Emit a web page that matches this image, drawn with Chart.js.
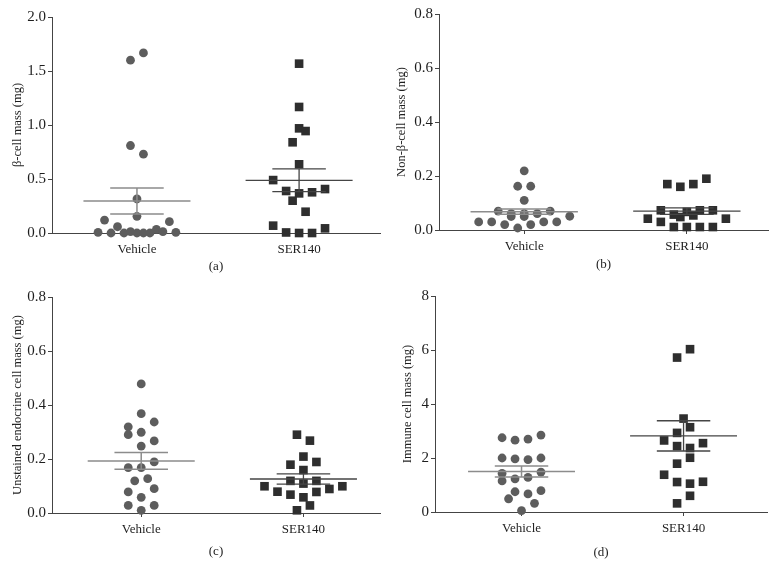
<!DOCTYPE html>
<html><head><meta charset="utf-8">
<script src="https://cdn.jsdelivr.net/npm/chart.js@4/dist/chart.umd.min.js"></script>
<style>
html,body{margin:0;padding:0;background:#fff;}
#wrap{position:relative;width:776px;height:566px;overflow:hidden;background:#fff;}
canvas{position:absolute;}
</style></head><body>
<div id="wrap">
<canvas id="ca" width="390" height="280" style="left:0;top:0"></canvas>
<canvas id="cb" width="386" height="280" style="left:390px;top:0"></canvas>
<canvas id="cc" width="390" height="286" style="left:0;top:280px"></canvas>
<canvas id="cd" width="386" height="286" style="left:390px;top:280px"></canvas>
</div>
<script>
const categories = ['Vehicle', 'SER140'];

// (a) beta-cell mass
const aVehicle       = [1.60, 1.667, 0.81, 0.73, 0.315, 0.154, 0.006, 0.12, 0.0, 0.058, 0.0, 0.012, 0.0, 0.0, 0.0, 0.034, 0.012, 0.105, 0.006];
const aVehicleJitter = [-0.04, 0.04, -0.04, 0.04, 0, 0, -0.24, -0.2, -0.16, -0.12, -0.08, -0.04, 0, 0.04, 0.08, 0.12, 0.16, 0.2, 0.24];
const aSer           = [1.568, 1.167, 0.969, 0.636, 0.367, 0.0, 0.944, 0.197, 0.84, 0.299, 0.49, 0.068, 0.389, 0.005, 0.377, 0.0, 0.407, 0.043];
const aSerJitter     = [0, 0, 0, 0, 0, 0, 0.04, 0.04, -0.04, -0.04, -0.16, -0.16, -0.08, -0.08, 0.08, 0.08, 0.16, 0.16];
const aMean = [0.296, 0.488];
const aSem  = [0.12, 0.105];
const aTicks = [0, 0.5, 1.0, 1.5, 2.0];

// (b) non-beta-cell mass
const bVehicle       = [0.219, 0.11, 0.061, 0.05, 0.162, 0.0074, 0.162, 0.02, 0.07, 0.061, 0.05, 0.061, 0.07, 0.051, 0.03, 0.03, 0.02, 0.03, 0.03];
const bVehicleJitter = [0, 0, 0, 0, -0.04, -0.04, 0.04, 0.04, -0.16, -0.08, -0.08, 0.08, 0.16, 0.28, -0.28, -0.2, -0.12, 0.12, 0.2];
const bSer           = [0.17, 0.16, 0.048, 0.17, 0.054, 0.19, 0.042, 0.073, 0.03, 0.057, 0.011, 0.067, 0.011, 0.073, 0.011, 0.073, 0.011, 0.042];
const bSerJitter     = [-0.12, -0.04, -0.04, 0.04, 0.04, 0.12, -0.24, -0.16, -0.16, -0.08, -0.08, 0, 0, 0.08, 0.08, 0.16, 0.16, 0.24];
const bMean = [0.068, 0.07];
const bSem  = [0.01, 0.012];
const bTicks = [0, 0.2, 0.4, 0.6, 0.8];

// (c) unstained endocrine cell mass
const cVehicle       = [0.478, 0.368, 0.337, 0.319, 0.29, 0.299, 0.267, 0.248, 0.189, 0.168, 0.168, 0.119, 0.127, 0.078, 0.09, 0.058, 0.028, 0.028, 0.01];
const cVehicleJitter = [0, 0, 0.08, -0.08, -0.08, 0, 0.08, 0, 0.08, -0.08, 0, -0.04, 0.04, -0.08, 0.08, 0, -0.08, 0.08, 0];
const cSer           = [0.29, 0.01, 0.268, 0.028, 0.209, 0.159, 0.109, 0.058, 0.179, 0.119, 0.068, 0.189, 0.119, 0.078, 0.099, 0.079, 0.089, 0.099];
const cSerJitter     = [-0.04, -0.04, 0.04, 0.04, 0, 0, 0, 0, -0.08, -0.08, -0.08, 0.08, 0.08, 0.08, -0.24, -0.16, 0.16, 0.24];
const cMean = [0.193, 0.126];
const cSem  = [0.031, 0.019];
const cTicks = [0, 0.2, 0.4, 0.6, 0.8];

// (d) immune cell mass
const dVehicle       = [2.75, 2.0, 1.43, 1.15, 2.66, 1.97, 1.23, 0.75, 2.70, 1.94, 1.28, 0.67, 2.85, 2.0, 1.48, 0.79, 0.49, 0.32, 0.05];
const dVehicleJitter = [-0.12, -0.12, -0.12, -0.12, -0.04, -0.04, -0.04, -0.04, 0.04, 0.04, 0.04, 0.04, 0.12, 0.12, 0.12, 0.12, -0.08, 0.08, 0];
const dSer           = [6.03, 3.14, 2.37, 2.01, 1.05, 0.60, 5.72, 2.93, 2.44, 1.79, 1.11, 0.32, 3.46, 2.65, 1.38, 2.55, 1.12];
const dSerJitter     = [0.04, 0.04, 0.04, 0.04, 0.04, 0.04, -0.04, -0.04, -0.04, -0.04, -0.04, -0.04, 0, -0.12, -0.12, 0.12, 0.12];
const dMean = [1.50, 2.82];
const dSem  = [0.20, 0.56];
const dTicks = [0, 2, 4, 6, 8];

const FONT = "'Liberation Serif', 'DejaVu Serif', serif";
const TXT = '#1e1e1e';
const AX = '#444444';

function pts(values, jitter, g) {
  return values.map((v, i) => ({x: g + jitter[i], y: v}));
}
function statLines(mean, sem, g) {
  return [
    {x: g - 0.33, y: mean}, {x: g + 0.33, y: mean}, {x: g, y: null},
    {x: g - 0.165, y: mean + sem}, {x: g + 0.165, y: mean + sem}, {x: g, y: null},
    {x: g - 0.165, y: mean - sem}, {x: g + 0.165, y: mean - sem}, {x: g, y: null},
    {x: g, y: mean - sem}, {x: g, y: mean + sem}
  ];
}

function panel(id, o) {
  const datasets = [
    {data: statLines(o.mean[0], o.sem[0], 0), showLine: true, spanGaps: false, pointRadius: 0,
     borderColor: '#8c8c8c', borderWidth: 1.5, order: 0, clip: false},
    {data: statLines(o.mean[1], o.sem[1], 1), showLine: true, spanGaps: false, pointRadius: 0,
     borderColor: '#454545', borderWidth: 1.3, order: 0, clip: false},
    {data: pts(o.veh, o.vehJ, 0), pointStyle: 'circle', pointRadius: 4.4,
     backgroundColor: '#5d5d5d', borderColor: '#5d5d5d', borderWidth: 0, order: 1, clip: false},
    {data: pts(o.ser, o.serJ, 1), pointStyle: 'rect', pointRadius: 6.1,
     backgroundColor: '#2e2e2e', borderColor: '#2e2e2e', borderWidth: 0, order: 1, clip: false}
  ];
  new Chart(document.getElementById(id), {
    type: 'scatter',
    data: {datasets},
    options: {
      responsive: false, animation: false, devicePixelRatio: 1,
      layout: {padding: {left: 0, top: o.top, right: o.right, bottom: 0}},
      plugins: {legend: {display: false}, tooltip: {enabled: false}},
      scales: {
        x: {
          type: 'linear', min: o.xMin, max: o.xMax,
          afterBuildTicks: s => { s.ticks = [{value: 0}, {value: 1}]; },
          ticks: {callback: (v, i) => categories[i], autoSkip: false, maxRotation: 0,
                  font: {family: FONT, size: 13}, color: TXT, padding: 5},
          grid: {drawOnChartArea: false, drawTicks: true, tickLength: 4, color: AX, lineWidth: 1},
          border: {display: true, color: AX, width: 1},
          title: {display: true, text: o.label, font: {family: FONT, size: 13}, color: TXT,
                  padding: {top: 0, bottom: o.labelPad}},
          afterFit: s => { s.height = o.xH; }
        },
        y: {
          min: 0, max: o.ticks[o.ticks.length - 1],
          afterBuildTicks: s => { s.ticks = o.ticks.map(v => ({value: v})); },
          ticks: {callback: v => v.toFixed(o.dec), font: {family: FONT, size: 15}, color: TXT, padding: 2},
          grid: {drawOnChartArea: false, drawTicks: true, tickLength: 4, color: AX, lineWidth: 1},
          border: {display: true, color: AX, width: 1},
          title: {display: true, text: o.yTitle, font: {family: FONT, size: 12.5}, color: TXT,
                  padding: {top: o.titlePad, bottom: 0}},
          afterFit: s => { s.width = o.yW; }
        }
      }
    }
  });
}

panel('ca', {veh: aVehicle, vehJ: aVehicleJitter, ser: aSer, serJ: aSerJitter, mean: aMean, sem: aSem,
  ticks: aTicks, dec: 1, yTitle: 'β-cell mass (mg)', label: '(a)',
  top: 17, right: 10, yW: 52, xH: 47, xMin: -0.524, xMax: 1.499, titlePad: 10, labelPad: 6});
panel('cb', {veh: bVehicle, vehJ: bVehicleJitter, ser: bSer, serJ: bSerJitter, mean: bMean, sem: bSem,
  ticks: bTicks, dec: 1, yTitle: 'Non-β-cell mass (mg)', label: '(b)',
  top: 14, right: 8, yW: 49, xH: 50, xMin: -0.524, xMax: 1.499, titlePad: 4, labelPad: 8});
panel('cc', {veh: cVehicle, vehJ: cVehicleJitter, ser: cSer, serJ: cSerJitter, mean: cMean, sem: cSem,
  ticks: cTicks, dec: 1, yTitle: 'Unstained endocrine cell mass (mg)', label: '(c)',
  top: 17, right: 10, yW: 52, xH: 53, xMin: -0.55, xMax: 1.472, titlePad: 10, labelPad: 7});
panel('cd', {veh: dVehicle, vehJ: dVehicleJitter, ser: dSer, serJ: dSerJitter, mean: dMean, sem: dSem,
  ticks: dTicks, dec: 0, yTitle: 'Immune cell mass (mg)', label: '(d)',
  top: 16, right: 9, yW: 45, xH: 54, xMin: -0.534, xMax: 1.515, titlePad: 10, labelPad: 6});
</script>
</body></html>
